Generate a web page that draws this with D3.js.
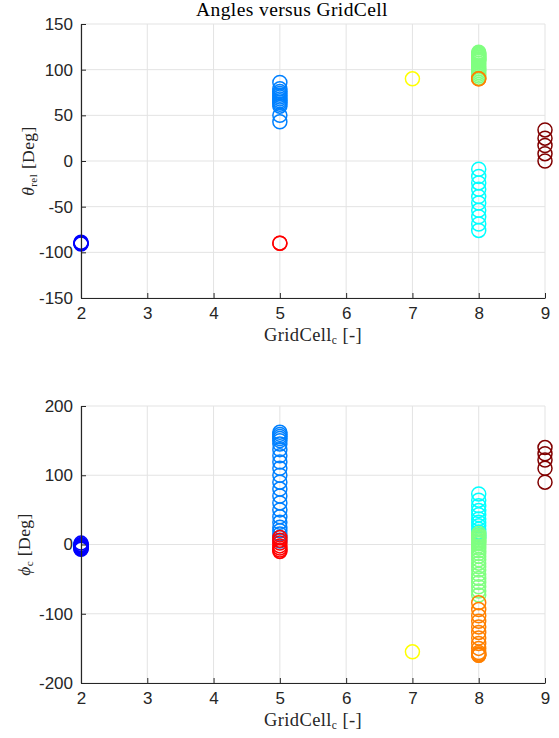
<!DOCTYPE html>
<html>
<head>
<meta charset="utf-8">
<script src="https://cdn.jsdelivr.net/npm/d3@7"></script>
<style>
  body { margin: 0; background: #fff; }
  svg { display: block; }
</style>
</head>
<body>
<div id="chart"></div>
<script>
// grid cells on the x axis
const xTicks = [2, 3, 4, 5, 6, 7, 8, 9];
const thetaTicks = [-150, -100, -50, 0, 50, 100, 150];
const phiTicks = [-200, -100, 0, 100, 200];

// jet(8) colours, one per group
const groupColors = ['#0000ff', '#0080ff', '#00ffff', '#80ff80', '#ffff00', '#ff8000', '#ff0000', '#800000'];

// theta_rel per group [cell, values]
const thetaBlue = [2, [-90, -90, -90, -91, -89]];
const thetaDodger = [5, [86, 79, 76, 74, 72, 70, 68, 66, 64, 62, 60, 50, 43]];
const thetaCyan = [8, [-9, -17, -24, -31, -39, -46, -54, -61, -69, -76]];
const thetaGreen = [8, [91, 93, 95, 97, 99, 101, 103, 105, 107, 109, 110, 111, 112, 113, 114, 115, 116, 117, 118, 119]];
const thetaYellow = [7, [90]];
const thetaOrange = [8, [90, 90]];
const thetaRed = [5, [-90, -90]];
const thetaDark = [9, [34, 25, 17, 8, 0]];

// phi_c per group [cell, values]
const phiBlue = [2, [2, 0, -1, -2, -3, -4, -5, -6, -7]];
const phiDodger = [5, [162, 159, 156, 153, 150, 145, 137, 128, 119, 110, 100, 90, 80, 70, 60, 50, 40, 32, 25, 20, 15, 10, 5]];
const phiCyan = [8, [73, 64, 56, 49, 43, 37, 32, 27, 22, 18, 14, 10]];
const phiGreen = [8, [16, 13, 11, 9, 7, 5, 3, 1, -2, -5, -9, -13, -17, -22, -27, -32, -37, -43, -49, -55, -61, -67, -73]];
const phiYellow = [7, [-155]];
const phiOrange = [8, [-84, -94, -103, -111, -119, -127, -135, -143, -150, -156, -158, -159, -160, -160]];
const phiRed = [5, [10, 6, 2, -2, -5, -8, -10]];
const phiDark = [9, [140, 131, 122, 110, 90]];

const thetaGroups = [thetaBlue, thetaDodger, thetaCyan, thetaGreen, thetaYellow, thetaOrange, thetaRed, thetaDark];
const phiGroups = [phiBlue, phiDodger, phiCyan, phiGreen, phiYellow, phiOrange, phiRed, phiDark];

const width = 559, height = 738;
const left = 81, right = 545;
const axisColor = '#262626';
const gridColor = '#e3e3e3';
const tickFont = '"Liberation Sans", Arial, sans-serif';
const serif = '"Liberation Serif", "DejaVu Serif", serif';

const svg = d3.select('#chart').append('svg')
  .attr('width', width).attr('height', height);

const x = d3.scaleLinear().domain([2, 9]).range([left, right]);

function serifText(sel, size) {
  return sel.style('font-family', serif).style('font-size', size + 'px')
    .style('letter-spacing', '0.4px').attr('fill', axisColor);
}

function panel(top, bottom, domain, yTicks, groups, symbol, sub, labelX) {
  const y = d3.scaleLinear().domain(domain).range([bottom, top]);
  const g = svg.append('g');

  // grid
  g.append('g').selectAll('line').data(xTicks).enter().append('line')
    .attr('x1', d => x(d)).attr('x2', d => x(d))
    .attr('y1', top).attr('y2', bottom)
    .attr('stroke', gridColor).attr('stroke-width', 1);
  g.append('g').selectAll('line').data(yTicks).enter().append('line')
    .attr('x1', left).attr('x2', right)
    .attr('y1', d => y(d)).attr('y2', d => y(d))
    .attr('stroke', gridColor).attr('stroke-width', 1);

  // points
  groups.forEach((grp, i) => {
    g.append('g').selectAll('circle').data(grp[1]).enter().append('circle')
      .attr('cx', x(grp[0]))
      .attr('cy', d => y(d))
      .attr('r', 7)
      .attr('fill', 'none')
      .attr('stroke', groupColors[i])
      .attr('stroke-width', 1.5);
  });

  // axes (ticks inward like matlab)
  const fmt = d => String(d);
  const xa = g.append('g').attr('transform', `translate(0,${bottom})`)
    .call(d3.axisBottom(x).tickValues(xTicks).tickFormat(fmt).tickSizeInner(-5).tickSizeOuter(0).tickPadding(9));
  const ya = g.append('g').attr('transform', `translate(${left},0)`)
    .call(d3.axisLeft(y).tickValues(yTicks).tickFormat(fmt).tickSizeInner(-5).tickSizeOuter(0).tickPadding(8));
  [xa, ya].forEach(a => {
    a.select('.domain').attr('stroke', axisColor).attr('stroke-width', 1.2);
    a.selectAll('.tick line').attr('stroke', axisColor);
    a.selectAll('.tick text').attr('fill', axisColor)
      .style('font-family', tickFont).style('font-size', '17px');
  });

  // x label
  const xl = serifText(g.append('text'), 18.5)
    .attr('x', (left + right) / 2).attr('y', bottom + 43)
    .attr('text-anchor', 'middle');
  xl.append('tspan').text('GridCell');
  xl.append('tspan').attr('baseline-shift', '-3').style('font-size', '11.5px').text('c');
  xl.append('tspan').text(' [-]');

  // y label
  const yl = serifText(g.append('text'), 17.5)
    .attr('transform', `translate(${labelX},${(top + bottom) / 2}) rotate(-90)`)
    .attr('text-anchor', 'middle');
  yl.append('tspan').style('font-style', 'italic').text(symbol);
  yl.append('tspan').attr('baseline-shift', '-3').style('font-size', '11px').text(sub);
  yl.append('tspan').text(' [Deg]');
  return g;
}

panel(24, 298, [-150, 150], thetaTicks, thetaGroups, 'θ', 'rel', 34);
panel(406, 683, [-200, 200], phiTicks, phiGroups, 'ϕ', 'c', 30);

serifText(svg.append('text'), 19.5)
  .attr('x', 292).attr('y', 16)
  .attr('text-anchor', 'middle')
  .attr('fill', '#000')
  .text('Angles versus GridCell');
</script>
</body>
</html>
